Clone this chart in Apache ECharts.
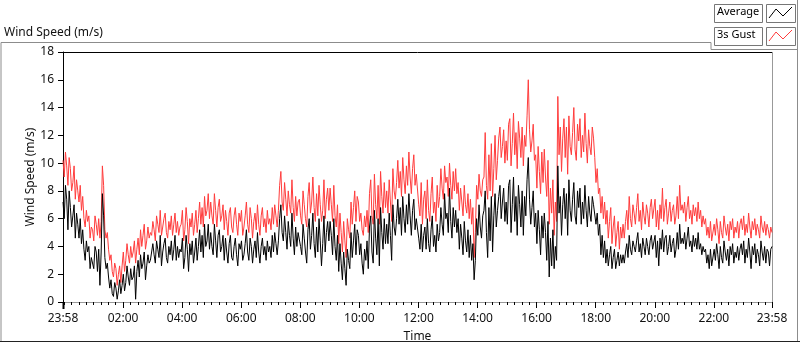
<!DOCTYPE html>
<html>
<head>
<meta charset="utf-8">
<script src="https://cdn.jsdelivr.net/npm/echarts@6/dist/echarts.min.js"></script>
<style>
  html, body { margin: 0; padding: 0; background: #fff; }
  #chart { width: 800px; height: 342px; }
</style>
</head>
<body>
<div id="chart"></div>
<script>
// day starts at 23:58, samples every 2.5 min
const startClock = 23 * 60 + 58;
const dayMinutes = 1440;

// 3s gust, one row per hour (24 samples)
const gust = [
  10.2, 9.0, 10.8, 9.8, 8.4, 10.4, 9.6, 8.0, 8.6, 9.8, 7.4, 8.8, 8.0, 7.2, 8.4, 6.6, 7.6, 6.0, 5.4, 6.6, 5.8, 6.2, 4.6, 5.4,
  5.2, 4.4, 6.2, 5.6, 4.8, 6.0, 4.6, 5.8, 9.8, 8.4, 5.2, 4.6, 5.0, 3.8, 3.0, 3.4, 2.2, 1.8, 2.8, 2.4, 1.2, 2.0, 2.6, 1.4,
  2.6, 3.6, 2.2, 3.0, 4.2, 3.4, 2.8, 4.0, 3.2, 3.6, 4.4, 2.8, 3.8, 4.6, 3.4, 5.2, 4.0, 4.8, 5.6, 3.8, 4.4, 5.4, 4.6, 5.0,
  4.8, 5.8, 5.2, 4.4, 6.2, 5.6, 5.0, 6.6, 4.8, 5.4, 6.0, 6.4, 5.0, 4.6, 5.8, 5.2, 6.2, 4.8, 5.6, 6.4, 5.0, 5.8, 4.8, 5.4,
  5.6, 6.6, 4.4, 5.2, 6.8, 5.8, 4.2, 6.0, 5.4, 6.4, 4.8, 5.6, 6.6, 5.0, 6.0, 7.2, 5.6, 6.8, 5.4, 7.6, 6.2, 6.6, 7.8, 6.0,
  7.2, 6.2, 5.6, 7.8, 6.6, 5.4, 6.8, 7.4, 5.8, 6.2, 7.0, 5.2, 6.6, 5.8, 4.8, 6.4, 6.8, 5.4, 5.0, 6.2, 6.8, 5.6, 4.8, 6.4,
  5.8, 6.6, 4.8, 5.4, 6.2, 7.2, 5.6, 5.0, 6.8, 6.0, 4.6, 5.8, 6.4, 5.2, 7.0, 5.6, 4.8, 6.2, 6.8, 5.4, 6.0, 5.0, 6.6, 5.6,
  6.0, 5.2, 6.8, 5.6, 7.0, 6.2, 5.4, 6.6, 8.4, 9.4, 7.2, 6.6, 8.6, 7.4, 6.2, 8.0, 7.0, 6.4, 8.8, 6.8, 5.8, 7.6, 6.2, 7.2,
  7.4, 6.2, 5.6, 8.0, 7.0, 6.0, 5.4, 7.6, 8.6, 6.4, 7.2, 9.0, 6.8, 5.8, 7.8, 6.2, 8.4, 7.0, 5.8, 6.6, 8.8, 6.0, 7.4, 8.2,
  6.6, 8.2, 7.0, 5.8, 8.4, 6.2, 5.4, 7.0, 4.2, 6.4, 5.0, 3.6, 5.8, 4.4, 3.2, 6.0, 5.2, 4.6, 7.2, 5.6, 6.8, 8.0, 5.8, 7.6,
  7.2, 5.8, 6.4, 5.2, 4.8, 6.2, 5.4, 6.6, 5.0, 7.8, 8.8, 6.2, 5.6, 9.2, 7.0, 6.0, 8.4, 5.6, 9.4, 7.6, 6.4, 8.6, 6.8, 8.0,
  6.4, 8.8, 7.2, 5.8, 9.6, 8.0, 7.4, 8.6, 10.2, 8.2, 9.4, 7.6, 10.4, 8.8, 7.8, 9.8, 8.4, 10.8, 9.0, 7.8, 9.6, 10.6, 8.4, 9.2,
  9.2, 7.0, 6.2, 8.6, 5.6, 7.4, 8.0, 6.0, 8.8, 6.6, 5.8, 7.8, 9.0, 6.4, 7.2, 5.8, 8.4, 6.8, 7.6, 9.6, 8.2, 7.4, 9.8, 8.6,
  9.0, 7.6, 10.0, 8.4, 7.4, 9.4, 8.0, 9.6, 7.8, 8.6, 6.6, 8.2, 7.2, 6.2, 8.4, 7.0, 6.4, 7.8, 6.0, 7.4, 5.6, 6.8, 3.2, 5.0,
  8.4, 7.4, 9.2, 8.0, 7.6, 8.8, 9.0, 12.2, 8.4, 7.4, 10.6, 8.0, 11.4, 7.6, 9.6, 12.0, 8.8, 10.2, 11.8, 12.6, 10.4, 11.2, 12.4, 10.0,
  11.6, 10.2, 12.8, 13.2, 9.8, 11.4, 13.6, 10.6, 12.2, 9.6, 13.0, 11.8, 10.4, 12.6, 9.8, 12.0, 11.2, 13.4, 16.0, 12.4, 10.8, 11.6, 12.8, 10.2,
  10.6, 8.2, 11.2, 9.4, 7.8, 10.8, 8.6, 11.0, 9.0, 7.6, 10.2, 5.6, 8.2, 6.4, 8.8, 4.8, 7.2, 5.8, 14.8, 10.6, 12.6, 9.4, 11.8, 13.2,
  10.4, 12.6, 9.2, 13.4, 11.2, 10.6, 12.2, 14.0, 11.0, 10.2, 12.8, 11.6, 13.2, 10.4, 12.0, 10.8, 13.6, 11.4, 10.0, 12.4, 11.2, 10.6, 12.6, 11.8,
  10.4, 8.6, 9.6, 7.8, 8.2, 6.4, 7.6, 6.0, 7.2, 5.6, 6.6, 4.6, 5.8, 6.8, 4.2, 5.4, 6.2, 4.0, 5.0, 5.8, 3.8, 5.4, 4.6, 5.6,
  4.6, 5.8, 6.6, 5.2, 7.6, 6.0, 5.4, 7.0, 6.4, 5.6, 6.8, 7.8, 5.8, 6.6, 5.2, 7.2, 6.2, 5.6, 7.0, 6.4, 5.4, 6.8, 7.4, 6.0,
  6.0, 7.4, 5.4, 6.6, 5.2, 7.0, 6.0, 8.2, 5.8, 6.8, 7.4, 5.6, 6.4, 7.2, 5.8, 6.6, 7.0, 5.6, 6.2, 7.6, 6.0, 8.4, 6.6, 7.0,
  6.4, 7.2, 5.8, 6.8, 7.6, 6.0, 6.6, 5.6, 7.0, 6.2, 6.8, 5.8, 7.2, 6.0, 6.6, 5.4, 6.2, 5.6, 6.0, 4.8, 5.4, 4.6, 5.8, 4.4,
  4.4, 5.6, 4.8, 6.0, 5.2, 4.2, 5.8, 5.0, 4.6, 6.2, 5.4, 4.8, 5.6, 4.4, 5.8, 5.2, 6.0, 4.6, 5.4, 5.0, 5.8, 4.6, 5.6, 6.0,
  5.2, 6.2, 4.8, 5.6, 5.0, 6.4, 5.4, 4.6, 5.8, 5.2, 6.0, 4.8, 5.6, 5.2, 4.6, 6.2, 5.4, 5.0, 5.8, 4.8, 5.6, 5.2, 4.6, 5.4, 5.0
];

// average wind speed, same sampling
const average = [
  7.2, 6.0, 8.4, 7.4, 5.2, 8.0, 6.8, 5.4, 6.2, 7.0, 4.6, 6.4, 5.6, 4.6, 6.0, 4.2, 5.2, 3.8, 3.0, 4.4, 3.6, 4.0, 2.4, 3.2,
  3.2, 2.4, 4.0, 3.6, 2.2, 3.8, 1.2, 3.6, 7.8, 6.2, 3.2, 2.4, 2.8, 1.8, 1.0, 1.6, 0.6, 0.4, 1.4, 1.0, 0.2, 0.8, 1.6, 0.6,
  1.2, 2.0, 0.8, 1.4, 2.6, 1.8, 1.2, 2.4, 1.6, 1.8, 2.6, 0.2, 2.2, 3.0, 1.8, 3.4, 2.4, 2.8, 3.6, 1.6, 2.6, 3.4, 2.8, 3.0,
  3.0, 4.2, 3.4, 2.8, 4.4, 3.8, 3.2, 4.8, 2.6, 3.6, 4.2, 4.6, 3.2, 2.8, 4.0, 3.4, 4.4, 3.0, 3.8, 4.8, 3.0, 4.0, 3.2, 3.8,
  3.6, 4.6, 2.4, 3.2, 4.8, 3.8, 2.2, 4.2, 3.4, 4.4, 2.8, 3.6, 4.6, 3.0, 4.0, 5.2, 3.6, 4.8, 3.2, 5.6, 4.0, 4.4, 5.6, 3.8,
  5.0, 4.0, 3.4, 5.6, 4.4, 3.2, 4.8, 5.2, 3.6, 4.0, 4.8, 3.0, 4.6, 3.6, 2.8, 4.2, 4.8, 3.2, 3.0, 4.0, 4.6, 3.4, 2.6, 4.2,
  3.8, 4.4, 3.0, 3.4, 4.2, 5.2, 3.6, 3.0, 4.6, 4.0, 2.8, 3.8, 4.4, 3.2, 5.0, 3.6, 2.8, 4.0, 4.6, 3.4, 4.0, 3.0, 4.4, 3.6,
  4.0, 3.2, 4.8, 3.6, 5.0, 4.2, 3.4, 4.4, 6.0, 7.0, 5.0, 4.4, 6.2, 5.0, 3.8, 5.8, 4.8, 4.0, 6.4, 4.6, 3.4, 5.4, 4.0, 5.0,
  5.0, 4.0, 3.4, 5.6, 4.6, 3.6, 2.8, 5.2, 6.0, 3.8, 4.8, 6.4, 4.2, 3.2, 5.4, 3.6, 6.0, 4.4, 2.6, 4.2, 6.2, 3.6, 5.0, 5.8,
  4.4, 5.8, 4.8, 3.4, 6.0, 4.0, 3.0, 4.8, 2.2, 4.2, 2.8, 1.6, 3.6, 2.4, 1.2, 3.8, 3.0, 2.4, 5.0, 3.2, 4.4, 5.6, 3.4, 5.2,
  4.8, 3.4, 4.2, 2.8, 2.0, 3.8, 3.0, 4.4, 2.4, 5.4, 6.2, 3.6, 2.8, 6.6, 4.6, 3.4, 6.0, 2.6, 6.8, 5.0, 3.8, 6.0, 4.2, 5.6,
  4.2, 6.4, 4.8, 3.0, 7.0, 5.4, 4.8, 6.0, 7.4, 5.6, 6.8, 4.8, 7.6, 6.0, 5.0, 7.0, 5.6, 7.8, 6.2, 4.8, 6.6, 7.4, 5.2, 6.0,
  6.0, 4.6, 3.8, 5.6, 3.6, 4.8, 5.4, 3.8, 6.0, 4.2, 3.6, 5.2, 6.2, 4.0, 4.8, 3.6, 5.6, 4.4, 5.0, 6.8, 5.6, 4.8, 7.8, 6.0,
  6.4, 5.0, 8.2, 5.8, 4.6, 6.8, 5.4, 6.6, 5.0, 6.0, 3.8, 5.6, 4.6, 3.4, 5.8, 4.4, 3.6, 5.2, 3.2, 4.8, 3.0, 4.2, 1.6, 3.0,
  6.0, 4.8, 7.0, 5.4, 4.6, 6.2, 6.6, 8.0, 5.0, 3.2, 6.8, 4.4, 7.6, 3.6, 6.2, 7.8, 5.4, 6.6, 7.6, 8.4, 6.0, 7.2, 8.2, 5.8,
  7.2, 5.6, 8.4, 8.8, 5.0, 7.0, 9.0, 5.8, 7.6, 4.8, 8.4, 7.0, 5.4, 8.0, 4.8, 7.6, 6.2, 8.8, 10.4, 7.4, 5.6, 6.8, 8.0, 5.4,
  6.4, 4.2, 6.6, 5.2, 3.4, 6.2, 4.6, 6.4, 5.0, 3.0, 5.8, 1.8, 4.6, 2.6, 5.2, 2.4, 4.0, 3.0, 9.8, 6.4, 7.6, 4.8, 7.0, 8.2,
  6.0, 7.8, 4.8, 8.8, 6.6, 5.8, 7.4, 8.6, 6.2, 5.6, 8.0, 6.8, 8.2, 5.6, 7.2, 6.0, 8.4, 6.6, 5.4, 7.6, 6.4, 5.8, 7.6, 7.0,
  7.0, 5.6, 6.4, 4.8, 5.6, 3.4, 4.8, 3.2, 4.4, 2.8, 3.8, 2.6, 3.4, 4.0, 2.4, 3.2, 3.8, 2.4, 3.0, 3.6, 2.6, 3.4, 2.8, 3.4,
  2.8, 3.6, 4.2, 3.2, 4.8, 3.8, 3.4, 4.4, 4.0, 3.6, 4.4, 5.0, 3.6, 4.2, 3.2, 4.6, 4.0, 3.4, 4.6, 4.0, 3.4, 4.4, 4.8, 3.8,
  3.8, 4.8, 3.2, 4.4, 2.6, 4.6, 3.8, 5.2, 3.6, 4.6, 4.8, 3.4, 4.0, 4.8, 3.6, 4.2, 4.6, 3.2, 3.8, 5.0, 3.8, 5.6, 4.2, 4.6,
  4.2, 5.0, 3.8, 4.6, 5.4, 4.0, 4.4, 3.6, 4.8, 4.0, 4.6, 3.8, 5.0, 3.8, 4.2, 3.4, 4.0, 3.6, 3.8, 2.8, 3.4, 2.4, 3.8, 2.6,
  2.6, 3.8, 3.0, 4.2, 3.4, 2.4, 4.0, 3.2, 2.8, 4.4, 3.6, 3.0, 3.8, 2.6, 4.0, 3.4, 4.2, 2.8, 3.6, 3.2, 4.0, 3.0, 3.8, 4.2,
  3.4, 4.4, 2.8, 3.8, 3.2, 4.6, 3.6, 2.4, 4.0, 3.4, 4.2, 2.8, 3.8, 3.4, 2.6, 4.4, 3.6, 3.0, 4.0, 2.8, 3.8, 3.6, 2.6, 3.8, 4.0
];

// labelled ticks (minutes after 23:58) and 15 min minor ticks
const majorTicks = [0, 122, 242, 362, 482, 602, 722, 842, 962, 1082, 1202, 1322, 1440];
const minorTicks = [];
for (let t = 2; t <= dayMinutes; t += 15) minorTicks.push(t);

const yMax = 18;
const yStep = 2;

function clockLabel(t) {
  const c = (Math.round(t) + startClock) % 1440;
  const h = Math.floor(c / 60), m = c % 60;
  return String(h).padStart(2, '0') + ':' + String(m).padStart(2, '0');
}

function toPoints(arr) {
  const step = dayMinutes / (arr.length - 1);
  return arr.map((v, i) => [i * step, v]);
}

const font = 'Noto Sans';
const chart = echarts.init(document.getElementById('chart'));

chart.setOption({
  animation: false,
  backgroundColor: '#fff',
  textStyle: { fontFamily: font },
  grid: { left: 63, right: 28, top: 52, bottom: 40, outerBoundsMode: 'none', containLabel: false },
  xAxis: [
    {
      type: 'value', min: 0, max: dayMinutes,
      name: 'Time', nameLocation: 'middle', nameGap: 29, nameMoveOverlap: false,
      nameTextStyle: { color: '#111', fontSize: 12, fontFamily: font },
      axisLine: { lineStyle: { color: '#999', width: 1 } },
      axisTick: { customValues: majorTicks, length: 6, lineStyle: { color: '#000', width: 1 } },
      axisLabel: { customValues: majorTicks, formatter: clockLabel, color: '#111', fontSize: 12, margin: 11 },
      splitLine: { show: false }
    },
    {
      type: 'value', min: 0, max: dayMinutes, position: 'bottom',
      axisLine: { show: false },
      axisTick: { customValues: minorTicks, length: 3, lineStyle: { color: '#000' } },
      axisLabel: { show: false },
      splitLine: { show: false }
    }
  ],
  yAxis: {
    type: 'value', min: 0, max: yMax, interval: yStep,
    name: 'Wind Speed (m/s)', nameLocation: 'middle', nameGap: 26, nameRotate: 90, nameMoveOverlap: false,
    nameTextStyle: { color: '#111', fontSize: 12, fontFamily: font },
    axisLine: { show: true, lineStyle: { color: '#000' } },
    axisTick: { show: true, length: 5, lineStyle: { color: '#000' } },
    axisLabel: { color: '#111', fontSize: 12, margin: 9 },
    splitLine: { show: false }
  },
  series: [
    {
      name: '3s Gust', type: 'line', showSymbol: false,
      data: toPoints(gust),
      lineStyle: { color: '#ff3c3c', width: 1 }, itemStyle: { color: '#ff3c3c' }
    },
    {
      name: 'Average', type: 'line', showSymbol: false,
      data: toPoints(average),
      lineStyle: { color: '#000', width: 1 }, itemStyle: { color: '#000' }
    }
  ],
  graphic: [
    // title
    { type: 'text', left: 4, top: 27, style: { text: 'Wind Speed (m/s)', fill: '#111', font: '12px ' + font } },
    // outer frame
    { type: 'polyline', shape: { points: [[1, 341], [1, 42.5], [711, 42.5], [711, 49.5], [797, 49.5]] },
      style: { stroke: '#8c8c8c', fill: null, lineWidth: 1 } },
    { type: 'line', shape: { x1: 797.5, y1: 0, x2: 797.5, y2: 342 }, style: { stroke: '#8c8c8c', lineWidth: 1 } },
    { type: 'line', shape: { x1: 0, y1: 341.5, x2: 800, y2: 341.5 }, style: { stroke: '#222', lineWidth: 1 } },
    // plot frame: top dark, right light
    { type: 'line', shape: { x1: 63, y1: 52.5, x2: 772, y2: 52.5 }, style: { stroke: '#000', lineWidth: 1 } },
    { type: 'line', shape: { x1: 772.5, y1: 52, x2: 772.5, y2: 302 }, style: { stroke: '#999', lineWidth: 1 } },
    // thick start tick
    { type: 'line', shape: { x1: 63.5, y1: 302, x2: 63.5, y2: 309 }, style: { stroke: '#000', lineWidth: 2 } },
    // legend
    { type: 'rect', shape: { x: 714.5, y: 4.5, width: 48, height: 18 }, style: { fill: '#fff', stroke: '#777', lineWidth: 1 } },
    { type: 'text', left: 717, top: 6, style: { text: 'Average', fill: '#000', font: '11px ' + font } },
    { type: 'rect', shape: { x: 766.5, y: 4.5, width: 29, height: 18 }, style: { fill: '#fff', stroke: '#777', lineWidth: 1 } },
    { type: 'polyline', shape: { points: [[769, 18], [776, 9], [783, 16], [792, 7]] }, style: { stroke: '#000', fill: null, lineWidth: 1 } },
    { type: 'rect', shape: { x: 714.5, y: 27.5, width: 48, height: 18 }, style: { fill: '#fff', stroke: '#777', lineWidth: 1 } },
    { type: 'text', left: 717, top: 29, style: { text: '3s Gust', fill: '#000', font: '11px ' + font } },
    { type: 'rect', shape: { x: 766.5, y: 27.5, width: 29, height: 18 }, style: { fill: '#fff', stroke: '#777', lineWidth: 1 } },
    { type: 'polyline', shape: { points: [[769, 41], [776, 32], [783, 39], [792, 30]] }, style: { stroke: '#ff3c3c', fill: null, lineWidth: 1 } }
  ]
});
</script>
</body>
</html>
